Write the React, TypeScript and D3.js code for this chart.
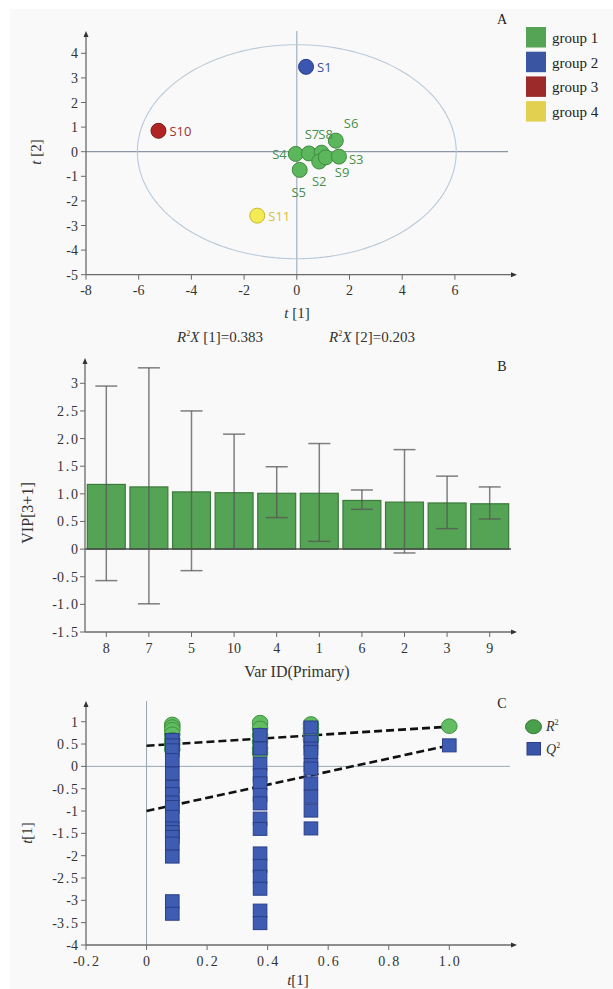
import React from "react";
import * as d3 from "d3";

// ---------- Panel A data ----------
const sampleNames = ["S1", "S10", "S11", "S4", "S5", "S7", "S8", "S2", "S9", "S3", "S6"];
const sampleGroups = [2, 3, 4, 1, 1, 1, 1, 1, 1, 1, 1];
const sampleT1 = [0.35, -5.25, -1.5, -0.04, 0.11, 0.46, 0.94, 0.85, 1.1, 1.6, 1.48];
const sampleT2 = [3.45, 0.85, -2.6, -0.09, -0.74, -0.07, -0.04, -0.4, -0.23, -0.2, 0.45];
const groupLabels = ["group 1", "group 2", "group 3", "group 4"];
const groupFill = ["#5cb65c", "#3a56b0", "#b02424", "#f4ea55"];
const groupStroke = ["#3f8a3f", "#2a3f88", "#7a1a1a", "#c8b830"];
const groupText = ["#4a8f4a", "#3a52a0", "#a03030", "#d4c240"];
const legendSwatch = ["#55a455", "#3a55a2", "#9c2a2a", "#e2d050"];
const aXTicks = [-8, -6, -4, -2, 0, 2, 4, 6];
const aYTicks = [4, 3, 2, 1, 0, -1, -2, -3, -4, -5];

// ---------- Panel B data ----------
const varIds = ["8", "7", "5", "10", "4", "1", "6", "2", "3", "9"];
const vipValues = [1.17, 1.125, 1.035, 1.02, 1.01, 1.01, 0.88, 0.85, 0.835, 0.82];
const vipUpper = [2.95, 3.28, 2.5, 2.08, 1.49, 1.91, 1.07, 1.8, 1.32, 1.125];
const vipLower = [-0.57, -0.99, -0.39, 0.0, 0.57, 0.14, 0.72, -0.07, 0.37, 0.545];
const bYTicks = [3, 2.5, 2.0, 1.5, 1.0, 0.5, 0, -0.5, -1.0, -1.5];
const bYTickLabels = ["3", "2.5", "2.0", "1.5", "1.0", "0.5", "0", "-0.5", "-1.0", "-1.5"];

// ---------- Panel C data ----------
const r2X = [0.085, 0.085, 0.085, 0.085, 0.085, 0.085, 0.085,
  0.375, 0.375, 0.375, 0.375, 0.375, 0.375,
  0.543, 0.543, 0.543, 0.543, 1.0];
const r2Y = [0.94, 0.88, 0.82, 0.72, 0.6, 0.5, 0.38,
  0.98, 0.85, 0.7, 0.55, 0.4, 0.3,
  0.95, 0.85, 0.75, 0.6, 0.9];
const q2X = [
  0.085, 0.085, 0.085, 0.085, 0.085, 0.085, 0.085, 0.085, 0.085, 0.085, 0.085, 0.085, 0.085, 0.085, 0.085, 0.085, 0.085,
  0.375, 0.375, 0.375, 0.375, 0.375, 0.375, 0.375, 0.375, 0.375, 0.375, 0.375, 0.375, 0.375, 0.375, 0.375,
  0.543, 0.543, 0.543, 0.543, 0.543, 0.543, 0.543, 0.543, 0.543, 0.543,
  1.0];
const q2Y = [
  0.59, 0.47, 0.36, 0.14, -0.16, -0.46, -0.62, -0.81, -0.91, -1.13, -1.39, -1.47, -1.58, -1.73, -2.02, -3.02, -3.3,
  0.7, 0.4, 0.06, -0.2, -0.38, -0.64, -0.83, -1.17, -1.4, -1.95, -2.23, -2.47, -2.74, -3.23, -3.51,
  0.87, 0.55, 0.4, 0.32, 0.03, -0.05, -0.38, -0.68, -0.99, -1.39,
  0.47];
const r2LineX = [0, 1.0];
const r2LineY = [0.46, 0.89];
const q2LineX = [0, 1.0];
const q2LineY = [-1.0, 0.47];
const cXTicks = [-0.2, 0, 0.2, 0.4, 0.6, 0.8, 1.0];
const cXTickLabels = ["-0.2", "0", "0.2", "0.4", "0.6", "0.8", "1.0"];
const cYTicks = [1, 0.5, 0, -0.5, -1, -1.5, -2, -2.5, -3, -3.5, -4];

const SERIF = "'Liberation Serif', 'DejaVu Serif', serif";
const SANS = "'Open Sans', 'Noto Sans', sans-serif";
const AX = "#6a6a6a";

function Arrows({ x0, yTop, yBot, xRight }: { x0: number; yTop: number; yBot: number; xRight: number }) {
  return (
    <g>
      <line x1={x0} x2={x0} y1={yBot} y2={yTop + 3} stroke={AX} strokeWidth={1.3} />
      <path d={`M${x0},${yTop} L${x0 - 2.5},${yTop + 6} L${x0 + 2.5},${yTop + 6} Z`} fill="#333" />
      <line x1={x0} x2={xRight - 3} y1={yBot} y2={yBot} stroke={AX} strokeWidth={1.3} />
      <path d={`M${xRight},${yBot} L${xRight - 6},${yBot - 2.5} L${xRight - 6},${yBot + 2.5} Z`} fill="#333" />
    </g>
  );
}

// tick label with a little extra room around the decimal point (as in the reference)
function TickText({ x, y, anchor, label }: { x: number; y: number; anchor: string; label: string }) {
  const parts = label.split(".");
  return (
    <text x={x} y={y} textAnchor={anchor as any} fontFamily={SERIF} fontSize={14} fill="#333">
      {parts.length === 1 ? label : (
        <>
          <tspan>{parts[0]}</tspan>
          <tspan dx={1.8}>.</tspan>
          <tspan dx={1.8}>{parts[1]}</tspan>
        </>
      )}
    </text>
  );
}

export default function App() {
  const xA = d3.scaleLinear().domain([-8, 8]).range([86, 507.6]);
  const yA = d3.scaleLinear().domain([-5, 4]).range([274.7, 53.3]);
  const xB = d3.scaleBand<string>().domain(varIds).range([85, 511]).paddingInner(0.11).paddingOuter(0.055);
  const yB = d3.scaleLinear().domain([-1.5, 3]).range([632, 383.3]);
  const xC = d3.scaleLinear().domain([-0.2, 1.0]).range([86, 449.3]);
  const yC = d3.scaleLinear().domain([-4, 1]).range([945, 721.7]);

  const ellipsePath = d3.line<number>()
    .x((a) => xA(6.05 * Math.cos(a)))
    .y((a) => yA(4.35 * Math.sin(a)))
    .curve(d3.curveLinearClosed)(d3.range(0, 2 * Math.PI, Math.PI / 90)) || "";

  const labelOffsets: Record<string, [number, number, string]> = {
    S1: [11, 5, "start"],
    S10: [11, 5, "start"],
    S11: [11, 5, "start"],
    S4: [-9, 5, "end"],
    S5: [-1, 27, "middle"],
    S7: [3, -14, "middle"],
    S8: [4, -14, "middle"],
    S2: [0, 24, "middle"],
    S9: [9, 20, "start"],
    S3: [10, 7, "start"],
    S6: [8, -13, "start"],
  };

  const r2Line = d3.line<number>().x((d) => xC(r2LineX[d])).y((d) => yC(r2LineY[d]));
  const q2Line = d3.line<number>().x((d) => xC(q2LineX[d])).y((d) => yC(q2LineY[d]));

  return (
    <svg width={613} height={989} style={{ position: "absolute", left: 0, top: 0 }}>
      <rect x={0} y={0} width={613} height={989} fill="#ffffff" />
      <rect x={10} y={9} width={603} height={980} fill="#f9f9f9" />

      {/* ================= Panel A ================= */}
      <g>
        <line x1={xA(-8)} x2={508} y1={yA(0)} y2={yA(0)} stroke="#8a97a6" strokeWidth={1.3} />
        <line x1={xA(0)} x2={xA(0)} y1={31} y2={yA(-5)} stroke="#9aa8b8" strokeWidth={1.1} />
        <path d={ellipsePath} fill="none" stroke="#b9c9d8" strokeWidth={1.1} />
        <Arrows x0={86} yTop={31} yBot={274.7} xRight={517} />
        {aXTicks.map((t) => (
          <g key={"ax" + t}>
            <line x1={xA(t)} x2={xA(t)} y1={274.7} y2={279.7} stroke={AX} />
            <TickText x={xA(t)} y={295} anchor="middle" label={String(t)} />
          </g>
        ))}
        {aYTicks.map((t) => (
          <g key={"ay" + t}>
            <line x1={81} x2={86} y1={yA(t)} y2={yA(t)} stroke={AX} />
            <TickText x={78} y={yA(t) + 5} anchor="end" label={String(t)} />
          </g>
        ))}
        <text x={297} y={318} textAnchor="middle" fontFamily={SERIF} fontSize={15} fill="#333">
          <tspan fontStyle="italic">t</tspan> [1]
        </text>
        <text transform={`translate(41,152) rotate(-90)`} textAnchor="middle" fontFamily={SERIF} fontSize={15} fill="#333">
          <tspan fontStyle="italic">t</tspan> [2]
        </text>
        {sampleNames.map((n, i) => {
          const g = sampleGroups[i] - 1;
          return (
            <circle key={"c" + n} cx={xA(sampleT1[i])} cy={yA(sampleT2[i])} r={7.5} fill={groupFill[g]} stroke={groupStroke[g]} strokeWidth={1} />
          );
        })}
        {sampleNames.map((n, i) => {
          const g = sampleGroups[i] - 1;
          const o = labelOffsets[n];
          return (
            <text key={"l" + n} x={xA(sampleT1[i]) + o[0]} y={yA(sampleT2[i]) + o[1]} textAnchor={o[2] as any} fontFamily={SANS} fontSize={13} fill={groupText[g]}>{n}</text>
          );
        })}
        <text x={502} y={24} textAnchor="middle" fontFamily={SERIF} fontSize={14} fill="#222">A</text>
        {groupLabels.map((lbl, i) => (
          <g key={lbl}>
            <rect x={526} y={27 + i * 24.7} width={20} height={20.5} fill={legendSwatch[i]} />
            <text x={552} y={43 + i * 24.7} fontFamily={SERIF} fontSize={15} fill="#222">{lbl}</text>
          </g>
        ))}
        <text x={220} y={342} textAnchor="middle" fontFamily={SERIF} fontSize={15} fill="#333">
          <tspan fontStyle="italic">R</tspan><tspan fontSize={8} dy={-6}>2</tspan><tspan dy={6} fontStyle="italic">X</tspan> [1]=0.383
        </text>
        <text x={372} y={342} textAnchor="middle" fontFamily={SERIF} fontSize={15} fill="#333">
          <tspan fontStyle="italic">R</tspan><tspan fontSize={8} dy={-6}>2</tspan><tspan dy={6} fontStyle="italic">X</tspan> [2]=0.203
        </text>
      </g>

      {/* ================= Panel B ================= */}
      <g>
        {varIds.map((id, i) => (
          <rect key={"b" + id} x={xB(id)!} y={yB(vipValues[i])} width={xB.bandwidth()} height={yB(0) - yB(vipValues[i])}
            fill="#55a455" stroke="#3b7a3b" strokeWidth={1.2} />
        ))}
        <line x1={85} x2={511} y1={yB(0)} y2={yB(0)} stroke="#4a4a4a" strokeWidth={1.5} />
        {varIds.map((id, i) => {
          const cx = xB(id)! + xB.bandwidth() / 2;
          return (
            <g key={"e" + id} stroke="#555" strokeOpacity={0.75} strokeWidth={1.5}>
              <line x1={cx} x2={cx} y1={yB(vipUpper[i])} y2={yB(vipLower[i])} />
              <line x1={cx - 11} x2={cx + 11} y1={yB(vipUpper[i])} y2={yB(vipUpper[i])} />
              <line x1={cx - 11} x2={cx + 11} y1={yB(vipLower[i])} y2={yB(vipLower[i])} />
            </g>
          );
        })}
        <Arrows x0={85} yTop={358} yBot={632} xRight={517} />
        {bYTicks.map((t, i) => (
          <g key={"by" + t}>
            <line x1={80} x2={85} y1={yB(t)} y2={yB(t)} stroke={AX} />
            <TickText x={78} y={yB(t) + 5} anchor="end" label={bYTickLabels[i]} />
          </g>
        ))}
        {varIds.map((id) => {
          const cx = xB(id)! + xB.bandwidth() / 2;
          return (
            <g key={"bx" + id}>
              <line x1={cx} x2={cx} y1={632} y2={637} stroke={AX} />
              <TickText x={cx} y={653} anchor="middle" label={id} />
            </g>
          );
        })}
        <text x={297} y={677} textAnchor="middle" fontFamily={SERIF} fontSize={16} fill="#333">Var ID(Primary)</text>
        <text transform={`translate(33,513) rotate(-90)`} textAnchor="middle" fontFamily={SERIF} fontSize={16} fill="#333">VIP[3+1]</text>
        <text x={502} y={371} textAnchor="middle" fontFamily={SERIF} fontSize={14} fill="#222">B</text>
      </g>

      {/* ================= Panel C ================= */}
      <g>
        <line x1={86} x2={510} y1={yC(0)} y2={yC(0)} stroke="#98a6b5" strokeWidth={1} />
        <line x1={xC(0)} x2={xC(0)} y1={701} y2={945} stroke="#98a6b5" strokeWidth={1} />
        <Arrows x0={86} yTop={701} yBot={945} xRight={517} />
        {cXTicks.map((t, i) => (
          <g key={"cx" + t}>
            <line x1={xC(t)} x2={xC(t)} y1={945} y2={950} stroke={AX} />
            <TickText x={xC(t)} y={966} anchor="middle" label={cXTickLabels[i]} />
          </g>
        ))}
        {cYTicks.map((t) => (
          <g key={"cy" + t}>
            <line x1={81} x2={86} y1={yC(t)} y2={yC(t)} stroke={AX} />
            <TickText x={78} y={yC(t) + 5} anchor="end" label={String(t)} />
          </g>
        ))}
        <path d={r2Line([0, 1]) || ""} fill="none" stroke="#111" strokeWidth={2.6} strokeDasharray="8,4" />
        <path d={q2Line([0, 1]) || ""} fill="none" stroke="#111" strokeWidth={2.6} strokeDasharray="8,4" />
        {r2X.map((x, i) => (
          <ellipse key={"r" + i} cx={xC(x)} cy={yC(r2Y[i])} rx={7.8} ry={7.3} fill="#62bc62" stroke="#3f923f" strokeWidth={1} />
        ))}
        {q2X.map((x, i) => (
          <rect key={"q" + i} x={xC(x) - 6.8} y={yC(q2Y[i]) - 6.5} width={13.6} height={13} fill="#3e5cb2" stroke="#2a3f88" strokeWidth={1} />
        ))}
        <text x={502} y={708} textAnchor="middle" fontFamily={SERIF} fontSize={14} fill="#222">C</text>
        <ellipse cx={533.5} cy={726.7} rx={8} ry={7} fill="#4aa04a" stroke="#2f7a2f" strokeWidth={1} />
        <text x={546} y={731} fontFamily={SERIF} fontSize={14} fill="#333">
          <tspan fontStyle="italic">R</tspan><tspan fontSize={8} dy={-6}>2</tspan>
        </text>
        <rect x={527} y={742.5} width={13.5} height={12.5} fill="#3a55a8" stroke="#2a3f88" strokeWidth={1} />
        <text x={546} y={754} fontFamily={SERIF} fontSize={14} fill="#333">
          <tspan fontStyle="italic">Q</tspan><tspan fontSize={8} dy={-6}>2</tspan>
        </text>
        <text x={298} y={985} textAnchor="middle" fontFamily={SERIF} fontSize={15} fill="#333">
          <tspan fontStyle="italic">t</tspan>[1]
        </text>
        <text transform={`translate(32,833) rotate(-90)`} textAnchor="middle" fontFamily={SERIF} fontSize={15} fill="#333">
          <tspan fontStyle="italic">t</tspan>[1]
        </text>
      </g>
    </svg>
  );
}
